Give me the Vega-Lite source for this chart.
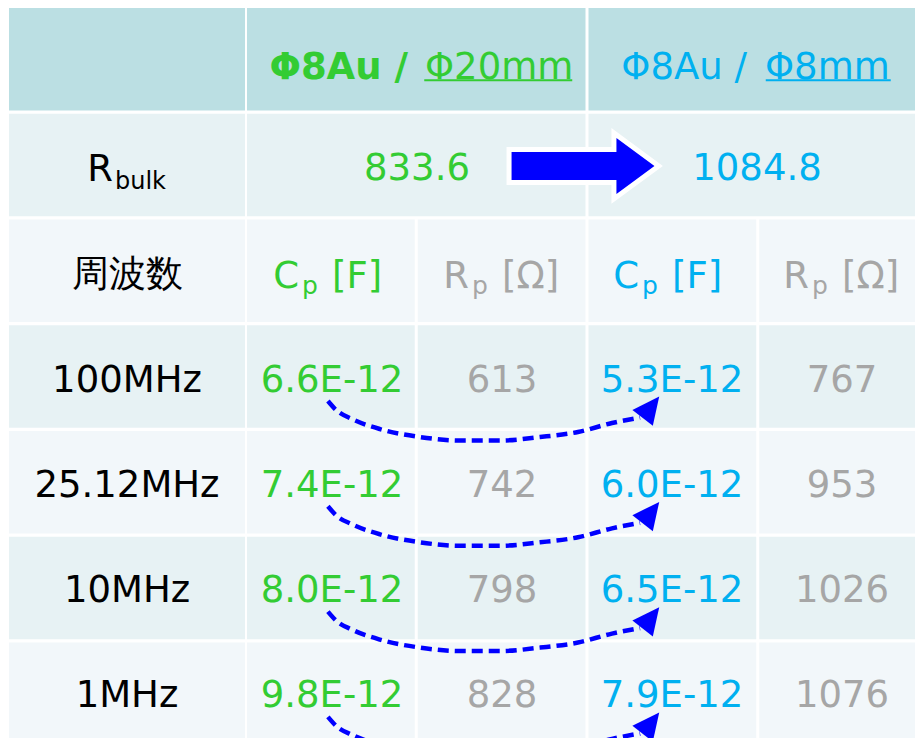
{
  "$schema": "https://vega.github.io/schema/vega-lite/v6.json",
  "width": 906,
  "height": 730,
  "autosize": {"type": "none"},
  "padding": {"left": 9, "top": 8, "right": 0, "bottom": 0},
  "background": "white",
  "config": {"view": {"stroke": null}, "text": {"font": "DejaVu Sans", "fontSize": 37}},
  "datasets": {
    "cells": [
      {"row": "header", "col": "c0", "kind": "label"},
      {"row": "Rbulk", "col": "c0", "kind": "label", "sym": "R", "sub": "bulk"},
      {"row": "周波数", "col": "c0", "kind": "label", "value": "周波数"},
      {"row": "100MHz", "col": "c0", "kind": "label", "value": "100MHz"},
      {"row": "25.12MHz", "col": "c0", "kind": "label", "value": "25.12MHz"},
      {"row": "10MHz", "col": "c0", "kind": "label", "value": "10MHz"},
      {"row": "1MHz", "col": "c0", "kind": "label", "value": "1MHz"},
      {"row": "周波数", "col": "c1", "kind": "Φ20mm", "sym": "C", "sub": "p", "unit": "[F]"},
      {"row": "周波数", "col": "c2", "kind": "Rp", "sym": "R", "sub": "p", "unit": "[Ω]"},
      {"row": "周波数", "col": "c3", "kind": "Φ8mm", "sym": "C", "sub": "p", "unit": "[F]"},
      {"row": "周波数", "col": "c4", "kind": "Rp", "sym": "R", "sub": "p", "unit": "[Ω]"},
      {"row": "100MHz", "col": "c1", "kind": "Φ20mm", "value": "6.6E-12"},
      {"row": "100MHz", "col": "c2", "kind": "Rp", "value": "613"},
      {"row": "100MHz", "col": "c3", "kind": "Φ8mm", "value": "5.3E-12"},
      {"row": "100MHz", "col": "c4", "kind": "Rp", "value": "767"},
      {"row": "25.12MHz", "col": "c1", "kind": "Φ20mm", "value": "7.4E-12"},
      {"row": "25.12MHz", "col": "c2", "kind": "Rp", "value": "742"},
      {"row": "25.12MHz", "col": "c3", "kind": "Φ8mm", "value": "6.0E-12"},
      {"row": "25.12MHz", "col": "c4", "kind": "Rp", "value": "953"},
      {"row": "10MHz", "col": "c1", "kind": "Φ20mm", "value": "8.0E-12"},
      {"row": "10MHz", "col": "c2", "kind": "Rp", "value": "798"},
      {"row": "10MHz", "col": "c3", "kind": "Φ8mm", "value": "6.5E-12"},
      {"row": "10MHz", "col": "c4", "kind": "Rp", "value": "1026"},
      {"row": "1MHz", "col": "c1", "kind": "Φ20mm", "value": "9.8E-12"},
      {"row": "1MHz", "col": "c2", "kind": "Rp", "value": "828"},
      {"row": "1MHz", "col": "c3", "kind": "Φ8mm", "value": "7.9E-12"},
      {"row": "1MHz", "col": "c4", "kind": "Rp", "value": "1076"}
    ],
    "merged": [
      {"row": "header", "grp": "A", "kind": "Φ20mm", "lead": "Φ8Au /", "tail": "Φ20mm"},
      {"row": "header", "grp": "B", "kind": "Φ8mm", "lead": "Φ8Au /", "tail": "Φ8mm"},
      {"row": "Rbulk", "grp": "A", "kind": "Φ20mm", "value": "833.6"},
      {"row": "Rbulk", "grp": "B", "kind": "Φ8mm", "value": "1084.8"}
    ],
    "curves": [
      {"arrow": "100MHz", "k": 0, "u": 0.476, "v": 3.733},
      {"arrow": "100MHz", "k": 1, "u": 0.524, "v": 3.818},
      {"arrow": "100MHz", "k": 2, "u": 0.618, "v": 3.904},
      {"arrow": "100MHz", "k": 3, "u": 0.782, "v": 3.999},
      {"arrow": "100MHz", "k": 4, "u": 1.018, "v": 4.075},
      {"arrow": "100MHz", "k": 5, "u": 1.253, "v": 4.108},
      {"arrow": "100MHz", "k": 6, "u": 1.488, "v": 4.108},
      {"arrow": "100MHz", "k": 7, "u": 1.724, "v": 4.075},
      {"arrow": "100MHz", "k": 8, "u": 1.947, "v": 4.027},
      {"arrow": "100MHz", "k": 9, "u": 2.147, "v": 3.942},
      {"arrow": "100MHz", "k": 10, "u": 2.312, "v": 3.890},
      {"arrow": "25.12MHz", "k": 0, "u": 0.476, "v": 4.733},
      {"arrow": "25.12MHz", "k": 1, "u": 0.524, "v": 4.818},
      {"arrow": "25.12MHz", "k": 2, "u": 0.618, "v": 4.904},
      {"arrow": "25.12MHz", "k": 3, "u": 0.782, "v": 4.999},
      {"arrow": "25.12MHz", "k": 4, "u": 1.018, "v": 5.075},
      {"arrow": "25.12MHz", "k": 5, "u": 1.253, "v": 5.108},
      {"arrow": "25.12MHz", "k": 6, "u": 1.488, "v": 5.108},
      {"arrow": "25.12MHz", "k": 7, "u": 1.724, "v": 5.075},
      {"arrow": "25.12MHz", "k": 8, "u": 1.947, "v": 5.027},
      {"arrow": "25.12MHz", "k": 9, "u": 2.147, "v": 4.942},
      {"arrow": "25.12MHz", "k": 10, "u": 2.312, "v": 4.890},
      {"arrow": "10MHz", "k": 0, "u": 0.476, "v": 5.733},
      {"arrow": "10MHz", "k": 1, "u": 0.524, "v": 5.818},
      {"arrow": "10MHz", "k": 2, "u": 0.618, "v": 5.904},
      {"arrow": "10MHz", "k": 3, "u": 0.782, "v": 5.999},
      {"arrow": "10MHz", "k": 4, "u": 1.018, "v": 6.075},
      {"arrow": "10MHz", "k": 5, "u": 1.253, "v": 6.108},
      {"arrow": "10MHz", "k": 6, "u": 1.488, "v": 6.108},
      {"arrow": "10MHz", "k": 7, "u": 1.724, "v": 6.075},
      {"arrow": "10MHz", "k": 8, "u": 1.947, "v": 6.027},
      {"arrow": "10MHz", "k": 9, "u": 2.147, "v": 5.942},
      {"arrow": "10MHz", "k": 10, "u": 2.312, "v": 5.890},
      {"arrow": "1MHz", "k": 0, "u": 0.476, "v": 6.733},
      {"arrow": "1MHz", "k": 1, "u": 0.524, "v": 6.818},
      {"arrow": "1MHz", "k": 2, "u": 0.618, "v": 6.904},
      {"arrow": "1MHz", "k": 3, "u": 0.782, "v": 6.999},
      {"arrow": "1MHz", "k": 4, "u": 1.018, "v": 7.075},
      {"arrow": "1MHz", "k": 5, "u": 1.253, "v": 7.108},
      {"arrow": "1MHz", "k": 6, "u": 1.488, "v": 7.108},
      {"arrow": "1MHz", "k": 7, "u": 1.724, "v": 7.075},
      {"arrow": "1MHz", "k": 8, "u": 1.947, "v": 7.027},
      {"arrow": "1MHz", "k": 9, "u": 2.147, "v": 6.942},
      {"arrow": "1MHz", "k": 10, "u": 2.312, "v": 6.890}
    ],
    "heads": [
      {"arrow": "100MHz", "u": 2.376, "v": 3.792},
      {"arrow": "25.12MHz", "u": 2.376, "v": 4.792},
      {"arrow": "10MHz", "u": 2.376, "v": 5.792},
      {"arrow": "1MHz", "u": 2.376, "v": 6.792}
    ]
  },
  "layer": [
    {
      "data": {"name": "cells"},
      "transform": [{"filter": "datum.col === 'c0'"}],
      "mark": {"type": "rect", "clip": true},
      "encoding": {
        "x": {"field": "col", "type": "nominal", "scale": {"domain": ["c0"], "range": [0, 236], "paddingInner": 0, "paddingOuter": 0}, "axis": null},
        "y": {"field": "row", "type": "ordinal", "scale": {"domain": ["header", "Rbulk", "周波数", "100MHz", "25.12MHz", "10MHz", "1MHz"], "range": [0, 737], "paddingInner": 0.03, "paddingOuter": 0}, "axis": null},
        "color": {"field": "row", "type": "ordinal", "scale": {"domain": ["header", "Rbulk", "周波数", "100MHz", "25.12MHz", "10MHz", "1MHz"], "range": ["#BBDFE3", "#E7F2F4", "#F2F7FA", "#E7F2F4", "#F2F7FA", "#E7F2F4", "#F2F7FA"]}, "legend": null}
      }
    },
    {
      "data": {"name": "cells"},
      "transform": [{"filter": "datum.col !== 'c0'"}],
      "mark": {"type": "rect", "clip": true},
      "encoding": {
        "x": {"field": "col", "type": "nominal", "scale": {"domain": ["c1", "c2", "c3", "c4"], "range": [238, 918], "paddingInner": 0.0176, "paddingOuter": 0}, "axis": null},
        "y": {"field": "row", "type": "ordinal", "scale": {"domain": ["header", "Rbulk", "周波数", "100MHz", "25.12MHz", "10MHz", "1MHz"], "range": [0, 737], "paddingInner": 0.03, "paddingOuter": 0}, "axis": null},
        "color": {"field": "row", "type": "ordinal", "scale": {"domain": ["header", "Rbulk", "周波数", "100MHz", "25.12MHz", "10MHz", "1MHz"], "range": ["#BBDFE3", "#E7F2F4", "#F2F7FA", "#E7F2F4", "#F2F7FA", "#E7F2F4", "#F2F7FA"]}, "legend": null}
      }
    },
    {
      "data": {"name": "merged"},
      "mark": {"type": "rect", "clip": true},
      "encoding": {
        "x": {"field": "grp", "type": "nominal", "scale": {"domain": ["A", "B"], "range": [238, 918], "paddingInner": 0.0088, "paddingOuter": 0}, "axis": null},
        "y": {"field": "row", "type": "ordinal", "scale": {"domain": ["header", "Rbulk", "周波数", "100MHz", "25.12MHz", "10MHz", "1MHz"], "range": [0, 737], "paddingInner": 0.03, "paddingOuter": 0}, "axis": null},
        "color": {"field": "row", "type": "ordinal", "scale": {"domain": ["header", "Rbulk", "周波数", "100MHz", "25.12MHz", "10MHz", "1MHz"], "range": ["#BBDFE3", "#E7F2F4", "#F2F7FA", "#E7F2F4", "#F2F7FA", "#E7F2F4", "#F2F7FA"]}, "legend": null}
      }
    },
    {
      "data": {"name": "cells"},
      "transform": [{"filter": "datum.col === 'c0' && isValid(datum.value)"}],
      "mark": {"type": "text", "align": "center", "baseline": "alphabetic", "dy": 15, "color": "#000000"},
      "encoding": {
        "x": {"field": "col", "type": "nominal", "scale": {"domain": ["c0"], "range": [0, 236], "paddingInner": 0, "paddingOuter": 0}, "axis": null},
        "y": {"field": "row", "type": "ordinal", "scale": {"domain": ["header", "Rbulk", "周波数", "100MHz", "25.12MHz", "10MHz", "1MHz"], "range": [0, 737], "paddingInner": 0.03, "paddingOuter": 0}, "axis": null},
        "text": {"field": "value"}
      }
    },
    {
      "data": {"name": "cells"},
      "transform": [{"filter": "datum.col === 'c0' && isValid(datum.sym)"}],
      "mark": {"type": "text", "align": "right", "baseline": "alphabetic", "dx": -14, "dy": 15, "color": "#000000"},
      "encoding": {
        "x": {"field": "col", "type": "nominal", "scale": {"domain": ["c0"], "range": [0, 236], "paddingInner": 0, "paddingOuter": 0}, "axis": null},
        "y": {"field": "row", "type": "ordinal", "scale": {"domain": ["header", "Rbulk", "周波数", "100MHz", "25.12MHz", "10MHz", "1MHz"], "range": [0, 737], "paddingInner": 0.03, "paddingOuter": 0}, "axis": null},
        "text": {"field": "sym"}
      }
    },
    {
      "data": {"name": "cells"},
      "transform": [{"filter": "datum.col === 'c0' && isValid(datum.sub)"}],
      "mark": {"type": "text", "align": "left", "baseline": "alphabetic", "dx": -12, "dy": 23, "fontSize": 24, "color": "#000000"},
      "encoding": {
        "x": {"field": "col", "type": "nominal", "scale": {"domain": ["c0"], "range": [0, 236], "paddingInner": 0, "paddingOuter": 0}, "axis": null},
        "y": {"field": "row", "type": "ordinal", "scale": {"domain": ["header", "Rbulk", "周波数", "100MHz", "25.12MHz", "10MHz", "1MHz"], "range": [0, 737], "paddingInner": 0.03, "paddingOuter": 0}, "axis": null},
        "text": {"field": "sub"}
      }
    },
    {
      "data": {"name": "cells"},
      "transform": [{"filter": "datum.col !== 'c0' && isValid(datum.value)"}],
      "mark": {"type": "text", "align": "center", "baseline": "alphabetic", "dy": 15},
      "encoding": {
        "x": {"field": "col", "type": "nominal", "scale": {"domain": ["c1", "c2", "c3", "c4"], "range": [238, 918], "paddingInner": 0.0176, "paddingOuter": 0}, "axis": null},
        "y": {"field": "row", "type": "ordinal", "scale": {"domain": ["header", "Rbulk", "周波数", "100MHz", "25.12MHz", "10MHz", "1MHz"], "range": [0, 737], "paddingInner": 0.03, "paddingOuter": 0}, "axis": null},
        "text": {"field": "value"},
        "color": {"field": "kind", "type": "nominal", "scale": {"domain": ["label", "Φ20mm", "Φ8mm", "Rp"], "range": ["#000000", "#33CC33", "#00B0F0", "#A6A6A6"]}, "legend": null}
      }
    },
    {
      "data": {"name": "cells"},
      "transform": [{"filter": "datum.col !== 'c0' && isValid(datum.sym)"}],
      "mark": {"type": "text", "align": "right", "baseline": "alphabetic", "dx": -33, "dy": 17},
      "encoding": {
        "x": {"field": "col", "type": "nominal", "scale": {"domain": ["c1", "c2", "c3", "c4"], "range": [238, 918], "paddingInner": 0.0176, "paddingOuter": 0}, "axis": null},
        "y": {"field": "row", "type": "ordinal", "scale": {"domain": ["header", "Rbulk", "周波数", "100MHz", "25.12MHz", "10MHz", "1MHz"], "range": [0, 737], "paddingInner": 0.03, "paddingOuter": 0}, "axis": null},
        "text": {"field": "sym"},
        "color": {"field": "kind", "type": "nominal", "scale": {"domain": ["label", "Φ20mm", "Φ8mm", "Rp"], "range": ["#000000", "#33CC33", "#00B0F0", "#A6A6A6"]}, "legend": null}
      }
    },
    {
      "data": {"name": "cells"},
      "transform": [{"filter": "datum.col !== 'c0' && isValid(datum.sub)"}],
      "mark": {"type": "text", "align": "left", "baseline": "alphabetic", "dx": -30, "dy": 23, "fontSize": 25},
      "encoding": {
        "x": {"field": "col", "type": "nominal", "scale": {"domain": ["c1", "c2", "c3", "c4"], "range": [238, 918], "paddingInner": 0.0176, "paddingOuter": 0}, "axis": null},
        "y": {"field": "row", "type": "ordinal", "scale": {"domain": ["header", "Rbulk", "周波数", "100MHz", "25.12MHz", "10MHz", "1MHz"], "range": [0, 737], "paddingInner": 0.03, "paddingOuter": 0}, "axis": null},
        "text": {"field": "sub"},
        "color": {"field": "kind", "type": "nominal", "scale": {"domain": ["label", "Φ20mm", "Φ8mm", "Rp"], "range": ["#000000", "#33CC33", "#00B0F0", "#A6A6A6"]}, "legend": null}
      }
    },
    {
      "data": {"name": "cells"},
      "transform": [{"filter": "datum.col !== 'c0' && isValid(datum.unit)"}],
      "mark": {"type": "text", "align": "left", "baseline": "alphabetic", "dx": 0, "dy": 17},
      "encoding": {
        "x": {"field": "col", "type": "nominal", "scale": {"domain": ["c1", "c2", "c3", "c4"], "range": [238, 918], "paddingInner": 0.0176, "paddingOuter": 0}, "axis": null},
        "y": {"field": "row", "type": "ordinal", "scale": {"domain": ["header", "Rbulk", "周波数", "100MHz", "25.12MHz", "10MHz", "1MHz"], "range": [0, 737], "paddingInner": 0.03, "paddingOuter": 0}, "axis": null},
        "text": {"field": "unit"},
        "color": {"field": "kind", "type": "nominal", "scale": {"domain": ["label", "Φ20mm", "Φ8mm", "Rp"], "range": ["#000000", "#33CC33", "#00B0F0", "#A6A6A6"]}, "legend": null}
      }
    },
    {
      "data": {"name": "merged"},
      "transform": [{"filter": "datum.row === 'header' && datum.grp === 'A'"}],
      "mark": {"type": "text", "align": "right", "baseline": "alphabetic", "dx": -9, "dy": 18, "fontWeight": "bold"},
      "encoding": {
        "x": {"field": "grp", "type": "nominal", "scale": {"domain": ["A", "B"], "range": [238, 918], "paddingInner": 0.0088, "paddingOuter": 0}, "axis": null},
        "y": {"field": "row", "type": "ordinal", "scale": {"domain": ["header", "Rbulk", "周波数", "100MHz", "25.12MHz", "10MHz", "1MHz"], "range": [0, 737], "paddingInner": 0.03, "paddingOuter": 0}, "axis": null},
        "text": {"field": "lead"},
        "color": {"field": "kind", "type": "nominal", "scale": {"domain": ["label", "Φ20mm", "Φ8mm", "Rp"], "range": ["#000000", "#33CC33", "#00B0F0", "#A6A6A6"]}, "legend": null}
      }
    },
    {
      "data": {"name": "merged"},
      "transform": [{"filter": "datum.row === 'header' && datum.grp === 'B'"}],
      "mark": {"type": "text", "align": "right", "baseline": "alphabetic", "dx": -10, "dy": 18},
      "encoding": {
        "x": {"field": "grp", "type": "nominal", "scale": {"domain": ["A", "B"], "range": [238, 918], "paddingInner": 0.0088, "paddingOuter": 0}, "axis": null},
        "y": {"field": "row", "type": "ordinal", "scale": {"domain": ["header", "Rbulk", "周波数", "100MHz", "25.12MHz", "10MHz", "1MHz"], "range": [0, 737], "paddingInner": 0.03, "paddingOuter": 0}, "axis": null},
        "text": {"field": "lead"},
        "color": {"field": "kind", "type": "nominal", "scale": {"domain": ["label", "Φ20mm", "Φ8mm", "Rp"], "range": ["#000000", "#33CC33", "#00B0F0", "#A6A6A6"]}, "legend": null}
      }
    },
    {
      "data": {"name": "merged"},
      "transform": [{"filter": "datum.row === 'header'"}],
      "mark": {"type": "text", "align": "left", "baseline": "alphabetic", "dx": 8, "dy": 18},
      "encoding": {
        "x": {"field": "grp", "type": "nominal", "scale": {"domain": ["A", "B"], "range": [238, 918], "paddingInner": 0.0088, "paddingOuter": 0}, "axis": null},
        "y": {"field": "row", "type": "ordinal", "scale": {"domain": ["header", "Rbulk", "周波数", "100MHz", "25.12MHz", "10MHz", "1MHz"], "range": [0, 737], "paddingInner": 0.03, "paddingOuter": 0}, "axis": null},
        "text": {"field": "tail"},
        "color": {"field": "kind", "type": "nominal", "scale": {"domain": ["label", "Φ20mm", "Φ8mm", "Rp"], "range": ["#000000", "#33CC33", "#00B0F0", "#A6A6A6"]}, "legend": null}
      }
    },
    {
      "data": {"name": "merged"},
      "transform": [{"filter": "datum.row === 'header' && datum.grp === 'A'"}],
      "mark": {"type": "rule", "xOffset": 8, "x2Offset": 156, "yOffset": 21, "strokeWidth": 2},
      "encoding": {
        "x": {"field": "grp", "type": "nominal", "scale": {"domain": ["A", "B"], "range": [238, 918], "paddingInner": 0.0088, "paddingOuter": 0}, "axis": null},
        "x2": {"field": "grp"},
        "y": {"field": "row", "type": "ordinal", "scale": {"domain": ["header", "Rbulk", "周波数", "100MHz", "25.12MHz", "10MHz", "1MHz"], "range": [0, 737], "paddingInner": 0.03, "paddingOuter": 0}, "axis": null},
        "color": {"field": "kind", "type": "nominal", "scale": {"domain": ["label", "Φ20mm", "Φ8mm", "Rp"], "range": ["#000000", "#33CC33", "#00B0F0", "#A6A6A6"]}, "legend": null}
      }
    },
    {
      "data": {"name": "merged"},
      "transform": [{"filter": "datum.row === 'header' && datum.grp === 'B'"}],
      "mark": {"type": "rule", "xOffset": 8, "x2Offset": 133, "yOffset": 21, "strokeWidth": 2},
      "encoding": {
        "x": {"field": "grp", "type": "nominal", "scale": {"domain": ["A", "B"], "range": [238, 918], "paddingInner": 0.0088, "paddingOuter": 0}, "axis": null},
        "x2": {"field": "grp"},
        "y": {"field": "row", "type": "ordinal", "scale": {"domain": ["header", "Rbulk", "周波数", "100MHz", "25.12MHz", "10MHz", "1MHz"], "range": [0, 737], "paddingInner": 0.03, "paddingOuter": 0}, "axis": null},
        "color": {"field": "kind", "type": "nominal", "scale": {"domain": ["label", "Φ20mm", "Φ8mm", "Rp"], "range": ["#000000", "#33CC33", "#00B0F0", "#A6A6A6"]}, "legend": null}
      }
    },
    {
      "data": {"name": "merged"},
      "transform": [{"filter": "datum.row === 'Rbulk'"}],
      "mark": {"type": "text", "align": "center", "baseline": "alphabetic", "dy": 14},
      "encoding": {
        "x": {"field": "grp", "type": "nominal", "scale": {"domain": ["A", "B"], "range": [238, 918], "paddingInner": 0.0088, "paddingOuter": 0}, "axis": null},
        "y": {"field": "row", "type": "ordinal", "scale": {"domain": ["header", "Rbulk", "周波数", "100MHz", "25.12MHz", "10MHz", "1MHz"], "range": [0, 737], "paddingInner": 0.03, "paddingOuter": 0}, "axis": null},
        "text": {"field": "value"},
        "color": {"field": "kind", "type": "nominal", "scale": {"domain": ["label", "Φ20mm", "Φ8mm", "Rp"], "range": ["#000000", "#33CC33", "#00B0F0", "#A6A6A6"]}, "legend": null}
      }
    },
    {
      "data": {"name": "merged"},
      "transform": [{"filter": "datum.row === 'Rbulk' && datum.grp === 'B'"}],
      "mark": {"type": "point", "shape": "M-0.94,-0.184 L0.44,-0.184 L0.44,-0.368 L0.94,0 L0.44,0.368 L0.44,0.184 L-0.94,0.184 Z", "size": 23104, "filled": true, "fill": "#FFFFFF", "stroke": "#FFFFFF", "strokeWidth": 10, "strokeJoin": "miter", "opacity": 1, "xOffset": -174},
      "encoding": {
        "x": {"field": "grp", "type": "nominal", "scale": {"domain": ["A", "B"], "range": [238, 918], "paddingInner": 0.0088, "paddingOuter": 0}, "axis": null},
        "y": {"field": "row", "type": "ordinal", "scale": {"domain": ["header", "Rbulk", "周波数", "100MHz", "25.12MHz", "10MHz", "1MHz"], "range": [0, 737], "paddingInner": 0.03, "paddingOuter": 0}, "axis": null}
      }
    },
    {
      "data": {"name": "merged"},
      "transform": [{"filter": "datum.row === 'Rbulk' && datum.grp === 'B'"}],
      "mark": {"type": "point", "shape": "M-0.94,-0.184 L0.44,-0.184 L0.44,-0.368 L0.94,0 L0.44,0.368 L0.44,0.184 L-0.94,0.184 Z", "size": 23104, "filled": true, "fill": "#0000FF", "strokeWidth": 0, "opacity": 1, "xOffset": -174},
      "encoding": {
        "x": {"field": "grp", "type": "nominal", "scale": {"domain": ["A", "B"], "range": [238, 918], "paddingInner": 0.0088, "paddingOuter": 0}, "axis": null},
        "y": {"field": "row", "type": "ordinal", "scale": {"domain": ["header", "Rbulk", "周波数", "100MHz", "25.12MHz", "10MHz", "1MHz"], "range": [0, 737], "paddingInner": 0.03, "paddingOuter": 0}, "axis": null}
      }
    },
    {
      "data": {"name": "curves"},
      "mark": {"type": "line", "interpolate": "monotone", "color": "#0000FF", "strokeWidth": 4.5, "strokeDash": [11, 6], "clip": true},
      "encoding": {
        "x": {"field": "u", "type": "quantitative", "scale": {"domain": [0, 4], "range": [238, 918], "nice": false, "zero": false}, "axis": null},
        "y": {"field": "v", "type": "quantitative", "scale": {"domain": [0, 7], "range": [0, 737], "nice": false, "zero": false}, "axis": null},
        "detail": {"field": "arrow"},
        "order": {"field": "k", "type": "quantitative"}
      }
    },
    {
      "data": {"name": "heads"},
      "mark": {"type": "point", "shape": "M0,-1 L0.96,1 L-0.96,1 Z", "size": 729, "angle": 38, "filled": true, "fill": "#0000FF", "strokeWidth": 0, "opacity": 1, "clip": true},
      "encoding": {
        "x": {"field": "u", "type": "quantitative", "scale": {"domain": [0, 4], "range": [238, 918], "nice": false, "zero": false}, "axis": null},
        "y": {"field": "v", "type": "quantitative", "scale": {"domain": [0, 7], "range": [0, 737], "nice": false, "zero": false}, "axis": null}
      }
    }
  ],
  "resolve": {"scale": {"x": "independent", "y": "independent", "color": "independent"}}
}
